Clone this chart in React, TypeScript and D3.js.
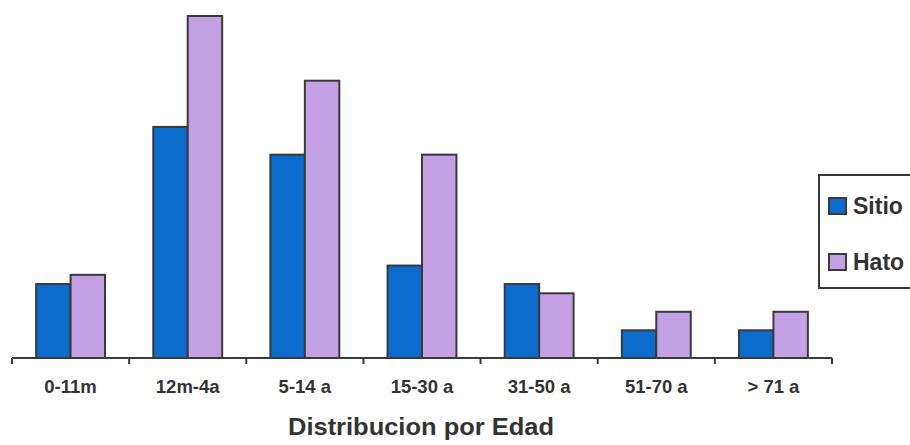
import React from "react";
import * as d3 from "d3";

const categories = ["0-11m", "12m-4a", "5-14 a", "15-30 a", "31-50 a", "51-70 a", "> 71 a"];
const seriesNames = ["Sitio", "Hato"];
const sitio = [8, 25, 22, 10, 8, 3, 3];
const hato = [9, 37, 30, 22, 7, 5, 5];
const colors = ["#0b6cce", "#c4a0e4"];
const axisTitle = "Distribucion por Edad";

export default function App() {
  const W = 910, H = 445;
  const x0 = d3.scaleBand<string>().domain(categories).range([12, 832]).paddingInner(0).paddingOuter(0);
  const x1 = d3.scaleBand<string>().domain(seriesNames).range([0, x0.bandwidth()]).paddingInner(0).paddingOuter(0.7);
  const y = d3.scaleLinear().domain([0, 37]).range([358, 16]);
  const values = [sitio, hato];
  const font = "'Liberation Sans', Arial, sans-serif";
  const stroke = "#3a3a3a";
  const tickXs = categories.map((c) => x0(c)!).concat([x0.range()[1]]);
  return (
    <svg width={W} height={H} style={{ position: "absolute", left: 0, top: 0, background: "#fff" }} fontFamily={font}>
      {categories.map((c, i) =>
        seriesNames.map((s, j) => {
          const v = values[j][i];
          return (
            <rect
              key={c + s}
              x={x0(c)! + x1(s)!}
              y={y(v)}
              width={x1.bandwidth()}
              height={y(0) - y(v)}
              fill={colors[j]}
              stroke={stroke}
              strokeWidth={2}
            />
          );
        })
      )}
      <line x1={x0.range()[0]} x2={x0.range()[1]} y1={y(0)} y2={y(0)} stroke={stroke} strokeWidth={2} />
      {tickXs.map((t, i) => (
        <line key={i} x1={t} x2={t} y1={y(0)} y2={y(0) + 6} stroke={stroke} strokeWidth={2} />
      ))}
      {categories.map((c) => (
        <text key={c} x={x0(c)! + x0.bandwidth() / 2} y={393} textAnchor="middle" fontSize={18.5} fontWeight="bold" fill="#333">
          {c}
        </text>
      ))}
      <text x={421} y={435} textAnchor="middle" fontSize={24} fontWeight="bold" fill="#333" textLength={266} lengthAdjust="spacingAndGlyphs">
        {axisTitle}
      </text>
      <rect x={819} y={175} width={100} height={113} fill="#fff" stroke={stroke} strokeWidth={2} />
      {seriesNames.map((s, j) => (
        <g key={s} transform={`translate(829, ${198 + j * 56})`}>
          <rect x={0} y={0} width={17} height={16} fill={colors[j]} stroke={stroke} strokeWidth={2} />
          <text x={24} y={15.5} fontSize={23} fontWeight="bold" fill="#333">
            {s}
          </text>
        </g>
      ))}
    </svg>
  );
}
